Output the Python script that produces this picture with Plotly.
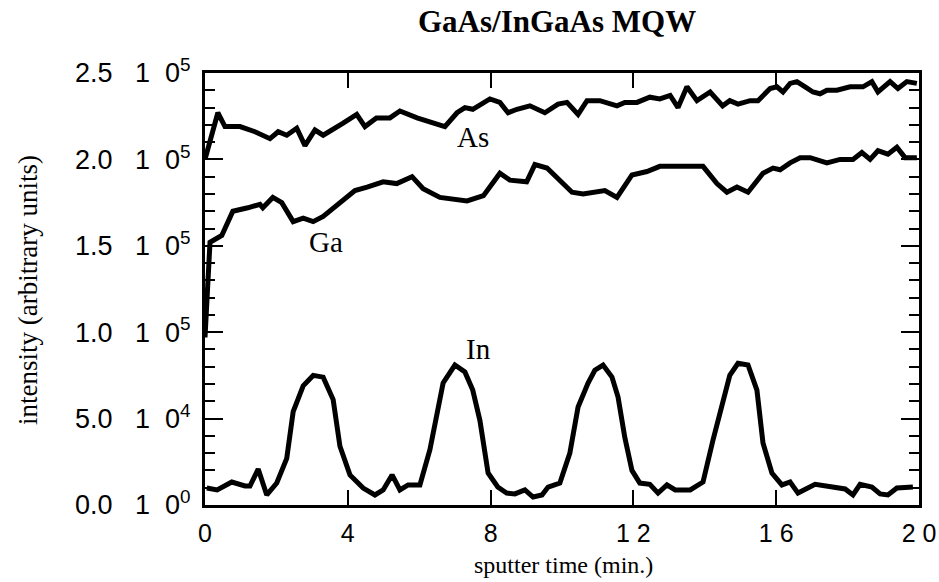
import plotly.graph_objects as go

# ---- data ----
as_t = [0.0, 0.14, 0.36, 0.56, 0.98, 1.4, 1.82, 2.05, 2.29, 2.57, 2.8, 3.08, 3.31, 3.87, 4.25, 4.48,
        4.8, 5.18, 5.46, 5.94, 6.72, 7.06, 7.28, 7.5, 7.98, 8.26, 8.49, 8.74, 9.1, 9.52, 9.89,
        10.14, 10.45, 10.7, 11.06, 11.54, 11.76, 12.1, 12.46, 12.74, 13.03, 13.25, 13.5, 13.78,
        14.15, 14.5, 14.7, 14.93, 15.27, 15.49, 15.83, 16.02, 16.19, 16.39, 16.58, 16.81, 17.03,
        17.23, 17.42, 17.7, 18.07, 18.43, 18.68, 18.85, 19.19, 19.41, 19.66, 19.94]
as_v = [2.00e5, 2.10e5, 2.27e5, 2.19e5, 2.19e5, 2.16e5, 2.12e5, 2.16e5, 2.14e5, 2.18e5, 2.08e5,
        2.17e5, 2.14e5, 2.21e5, 2.26e5, 2.19e5, 2.24e5, 2.24e5, 2.28e5, 2.24e5, 2.19e5, 2.27e5,
        2.30e5, 2.29e5, 2.35e5, 2.33e5, 2.27e5, 2.29e5, 2.31e5, 2.27e5, 2.32e5, 2.33e5, 2.26e5,
        2.34e5, 2.34e5, 2.31e5, 2.33e5, 2.33e5, 2.36e5, 2.35e5, 2.37e5, 2.30e5, 2.42e5, 2.34e5,
        2.39e5, 2.31e5, 2.34e5, 2.32e5, 2.34e5, 2.34e5, 2.41e5, 2.42e5, 2.39e5, 2.44e5, 2.45e5,
        2.42e5, 2.39e5, 2.38e5, 2.40e5, 2.40e5, 2.42e5, 2.42e5, 2.45e5, 2.39e5, 2.45e5, 2.41e5,
        2.45e5, 2.44e5]

ga_t = [0.0, 0.14, 0.47, 0.78, 1.2, 1.54, 1.62, 1.9, 2.15, 2.47, 2.75, 3.03, 3.31, 3.78, 4.2, 4.54,
        4.99, 5.37, 5.8, 6.11, 6.58, 7.34, 7.8, 8.26, 8.54, 9.01, 9.24, 9.58, 9.94, 10.28, 10.59,
        10.98, 11.2, 11.54, 11.96, 12.38, 12.74, 13.95, 14.34, 14.62, 14.9, 15.21, 15.63, 15.91,
        16.11, 16.39, 16.67, 16.95, 17.42, 17.79, 18.15, 18.4, 18.63, 18.85, 19.13, 19.38, 19.61,
        19.94]
ga_v = [0.97e5, 1.52e5, 1.56e5, 1.70e5, 1.72e5, 1.74e5, 1.72e5, 1.78e5, 1.75e5, 1.64e5, 1.66e5,
        1.64e5, 1.67e5, 1.75e5, 1.82e5, 1.84e5, 1.87e5, 1.86e5, 1.90e5, 1.83e5, 1.78e5, 1.76e5,
        1.79e5, 1.92e5, 1.88e5, 1.87e5, 1.97e5, 1.95e5, 1.88e5, 1.81e5, 1.80e5, 1.81e5, 1.82e5,
        1.78e5, 1.91e5, 1.93e5, 1.96e5, 1.96e5, 1.86e5, 1.81e5, 1.84e5, 1.81e5, 1.92e5, 1.95e5,
        1.94e5, 1.98e5, 2.01e5, 2.01e5, 1.98e5, 2.00e5, 2.00e5, 2.04e5, 2.00e5, 2.05e5, 2.03e5,
        2.07e5, 2.01e5, 2.01e5]

in_t = [0.05, 0.34, 0.75, 1.12, 1.26, 1.49, 1.73, 2.01, 2.29, 2.47, 2.75, 3.03, 3.31, 3.59, 3.78,
        4.06, 4.43, 4.76, 4.99, 5.24, 5.46, 5.69, 6.02, 6.3, 6.67, 7.0, 7.28, 7.5, 7.7, 7.93, 8.2,
        8.45, 8.68, 8.96, 9.19, 9.44, 9.61, 9.94, 10.22, 10.45, 10.73, 10.92, 11.15, 11.4, 11.57,
        11.76, 11.96, 12.18, 12.46, 12.69, 12.94, 13.17, 13.59, 13.95, 14.23, 14.5, 14.7, 14.93,
        15.21, 15.46, 15.63, 15.88, 16.16, 16.39, 16.61, 17.09, 17.7, 17.93, 18.15, 18.35, 18.68,
        18.91, 19.13, 19.38, 19.83]
in_v = [9.8e3, 8.7e3, 13.3e3, 11.0e3, 11.0e3, 20.8e3, 5.8e3, 12.7e3, 27.0e3, 54.0e3, 69.0e3,
        75.0e3, 74.0e3, 61.0e3, 34.0e3, 17.4e3, 9.8e3, 5.8e3, 8.7e3, 17.4e3, 8.7e3, 11.6e3,
        11.6e3, 32.0e3, 70.6e3, 81.0e3, 77.0e3, 66.5e3, 49.0e3, 18.5e3, 10.4e3, 6.9e3, 6.4e3,
        8.7e3, 4.6e3, 5.8e3, 10.4e3, 12.7e3, 30.0e3, 56.7e3, 70.6e3, 78.0e3, 81.0e3, 74.0e3,
        62.5e3, 39.0e3, 20.0e3, 12.7e3, 12.0e3, 6.9e3, 11.6e3, 8.7e3, 8.7e3, 13.3e3, 37.6e3,
        60.8e3, 75.0e3, 82.0e3, 81.0e3, 66.5e3, 35.9e3, 18.5e3, 11.6e3, 13.3e3, 6.9e3, 12.0e3,
        10.4e3, 9.3e3, 5.8e3, 12.0e3, 10.4e3, 6.4e3, 5.8e3, 9.8e3, 10.4e3]

x_tickvals = [0, 4, 8, 12, 16, 20]
x_ticktext = ["0", "4", "8", "1 2", "1 6", "2 0"]
y_tickvals = [0, 5e4, 1e5, 1.5e5, 2e5, 2.5e5]
y_mant = ["0.0", "5.0", "1.0", "1.5", "2.0", "2.5"]
y_exp = ["0", "4", "5", "5", "5", "5"]

labels = [("As", 7.5, 2.13e5), ("Ga", 3.39, 1.52e5), ("In", 7.67, 0.90e5)]

NB = "\u00a0"
y_ticktext = [m + NB * 3 + "1" + NB * 2 + "0<sup>" + e + "</sup>" for m, e in zip(y_mant, y_exp)]

serif = "Liberation Serif, Times New Roman, serif"
sans = "Liberation Sans, Arial, sans-serif"

# plot area in pixels
L, R, T, B = 205, 919, 73, 505
W, H = R - L, B - T


def px(x):
    return (x - L) / W


def py(y):
    return (B - y) / H


fig = go.Figure()
for t, v in [(as_t, as_v), (ga_t, ga_v), (in_t, in_v)]:
    fig.add_trace(go.Scatter(x=t, y=v, mode="lines",
                             line=dict(color="black", width=5), showlegend=False))

for txt, x, y in labels:
    fig.add_annotation(x=x, y=y, text=txt, showarrow=False,
                       font=dict(family=serif, size=29, color="black"))

fig.add_annotation(x=px(557), y=py(22), xref="paper", yref="paper",
                   text="<b>GaAs/InGaAs MQW</b>", showarrow=False,
                   xanchor="center", yanchor="middle",
                   font=dict(family=serif, size=31, color="black"))
fig.add_annotation(x=px(563), y=py(565), xref="paper", yref="paper",
                   text="sputter time (min.)", showarrow=False,
                   xanchor="center", yanchor="middle",
                   font=dict(family=serif, size=24, color="black"))
fig.add_annotation(x=px(28), y=py(290), xref="paper", yref="paper",
                   text="intensity (arbitrary units)", showarrow=False, textangle=-90,
                   xanchor="center", yanchor="middle",
                   font=dict(family=serif, size=27, color="black"))

fig.update_layout(
    width=939, height=582,
    margin=dict(l=L, r=939 - R, t=T, b=582 - B, autoexpand=False),
    paper_bgcolor="white", plot_bgcolor="white",
    xaxis=dict(range=[0, 20], tickvals=x_tickvals, ticktext=x_ticktext, automargin=False,
               ticks="inside", ticklen=15, tickwidth=2, tickcolor="black",
               showline=True, linewidth=3, linecolor="black", mirror="ticks",
               showgrid=False, zeroline=False, ticklabelstandoff=4,
               tickfont=dict(family=sans, size=25, color="black")),
    yaxis=dict(range=[0, 2.5e5], tickvals=y_tickvals, ticktext=y_ticktext, automargin=False,
               ticks="inside", ticklen=18, tickwidth=2, tickcolor="black",
               showline=True, linewidth=3, linecolor="black", mirror="ticks",
               showgrid=False, zeroline=False, ticklabelstandoff=6,
               minor=dict(dtick=1e4, ticks="inside", ticklen=10, tickwidth=2,
                          tickcolor="black", showgrid=False),
               tickfont=dict(family=sans, size=27, color="black")),
)

fig.write_html("out.html")
